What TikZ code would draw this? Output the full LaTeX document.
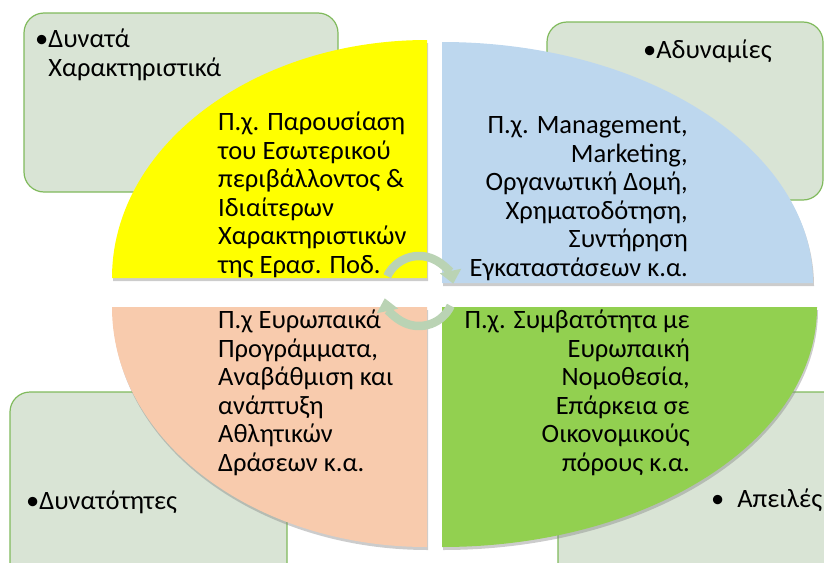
\documentclass[tikz,border=0pt]{standalone}
\usepackage{fontspec}
\setmainfont{Carlito}
\usetikzlibrary{arrows.meta, shadows}

\definecolor{boxfill}{RGB}{217,228,213}
\definecolor{boxline}{RGB}{128,186,92}
\definecolor{quadS}{RGB}{255,255,0}
\definecolor{quadW}{RGB}{189,215,238}
\definecolor{quadO}{RGB}{248,203,173}
\definecolor{quadT}{RGB}{146,208,80}
\definecolor{cyclegreen}{RGB}{186,211,180}

\tikzset{
  cornerbox/.style={draw=boxline, line width=1.2pt, fill=boxfill, rounded corners=20pt},
  quadrant/.style={drop shadow={shadow xshift=1pt, shadow yshift=-3pt, opacity=0.4}},
  swottext/.style={font=\fontsize{26.5}{28.5}\selectfont, inner sep=0pt},
  cyclearc/.style={draw=cyclegreen, line width=8.5pt, -{Triangle[width=21pt,length=13pt]}}
}

\begin{document}
\begin{tikzpicture}[x=1pt, y=-1pt]

\useasboundingbox (0,0) rectangle (824,562);
\clip (0,0) rectangle (824,562);

% --- Corner boxes ---
\foreach \xa/\ya/\xb/\yb in {24/13/338/192, 547/22/823/200, 10/392/287/585, 558/392/845/585}
{
    \draw[cornerbox] (\xa,\ya) rectangle (\xb,\yb);
}

% --- Four quadrants of the matrix ---
\fill[quadrant, quadS] (427,278) -- (427,40) arc[start angle=-90, end angle=-180, x radius=315, y radius=238] -- cycle;
\fill[quadrant, quadW] (442,283) -- (442,42) arc[start angle=-90, end angle=0, x radius=371, y radius=241] -- cycle;
\fill[quadrant, quadO] (427,307) -- (112,307) arc[start angle=180, end angle=90, x radius=315, y radius=240] -- cycle;
\fill[quadrant, quadT] (442,307) -- (817,307) arc[start angle=0, end angle=90, x radius=375, y radius=240] -- cycle;

% --- Cycle arrows in the middle ---
\coordinate (hub) at (419,291);
\draw[cyclearc] (hub) ++(-155:35) arc[start angle=-155, end angle=-12, radius=35];
\draw[cyclearc] (hub) ++(25:35) arc[start angle=25, end angle=168, radius=35];

% --- Corner labels (base = last line) ---
\node[swottext, anchor=base west, align=left] (strengths) at (35,76) {•Δυνατά\\\phantom{•}Χαρακτηριστικά};
\node[swottext, anchor=base west] (weaknesses) at (643,58) {•Αδυναμίες};
\node[swottext, anchor=base west] (opportunities) at (26,509) {•Δυνατότητες};
\node[swottext, anchor=base west] (threats) at (711,507) {•\hspace{13pt}Απειλές};

% --- Quadrant texts (base = last line) ---
\node[swottext, anchor=base west, align=left] (strengthsnote) at (218,273)
  {Π.χ. Παρουσίαση\\του Εσωτερικού\\περιβάλλοντος \&\\Ιδιαίτερων\\Χαρακτηριστικών\\της Ερασ. Ποδ.};
\node[swottext, anchor=base east, align=right] (weaknessesnote) at (688,276)
  {Π.χ. Management,\\Marketing,\\Οργανωτική Δομή,\\Χρηματοδότηση,\\Συντήρηση\\Εγκαταστάσεων κ.α.};
\node[swottext, anchor=base west, align=left] (opportunitiesnote) at (218,471)
  {Π.χ Ευρωπαικά\\Προγράμματα,\\Αναβάθμιση και\\ανάπτυξη\\Αθλητικών\\Δράσεων κ.α.};
\node[swottext, anchor=base east, align=right] (threatsnote) at (690,471)
  {Π.χ. Συμβατότητα με\\Ευρωπαική\\Νομοθεσία,\\Επάρκεια σε\\Οικονομικούς\\πόρους κ.α.};

\end{tikzpicture}
\end{document}
